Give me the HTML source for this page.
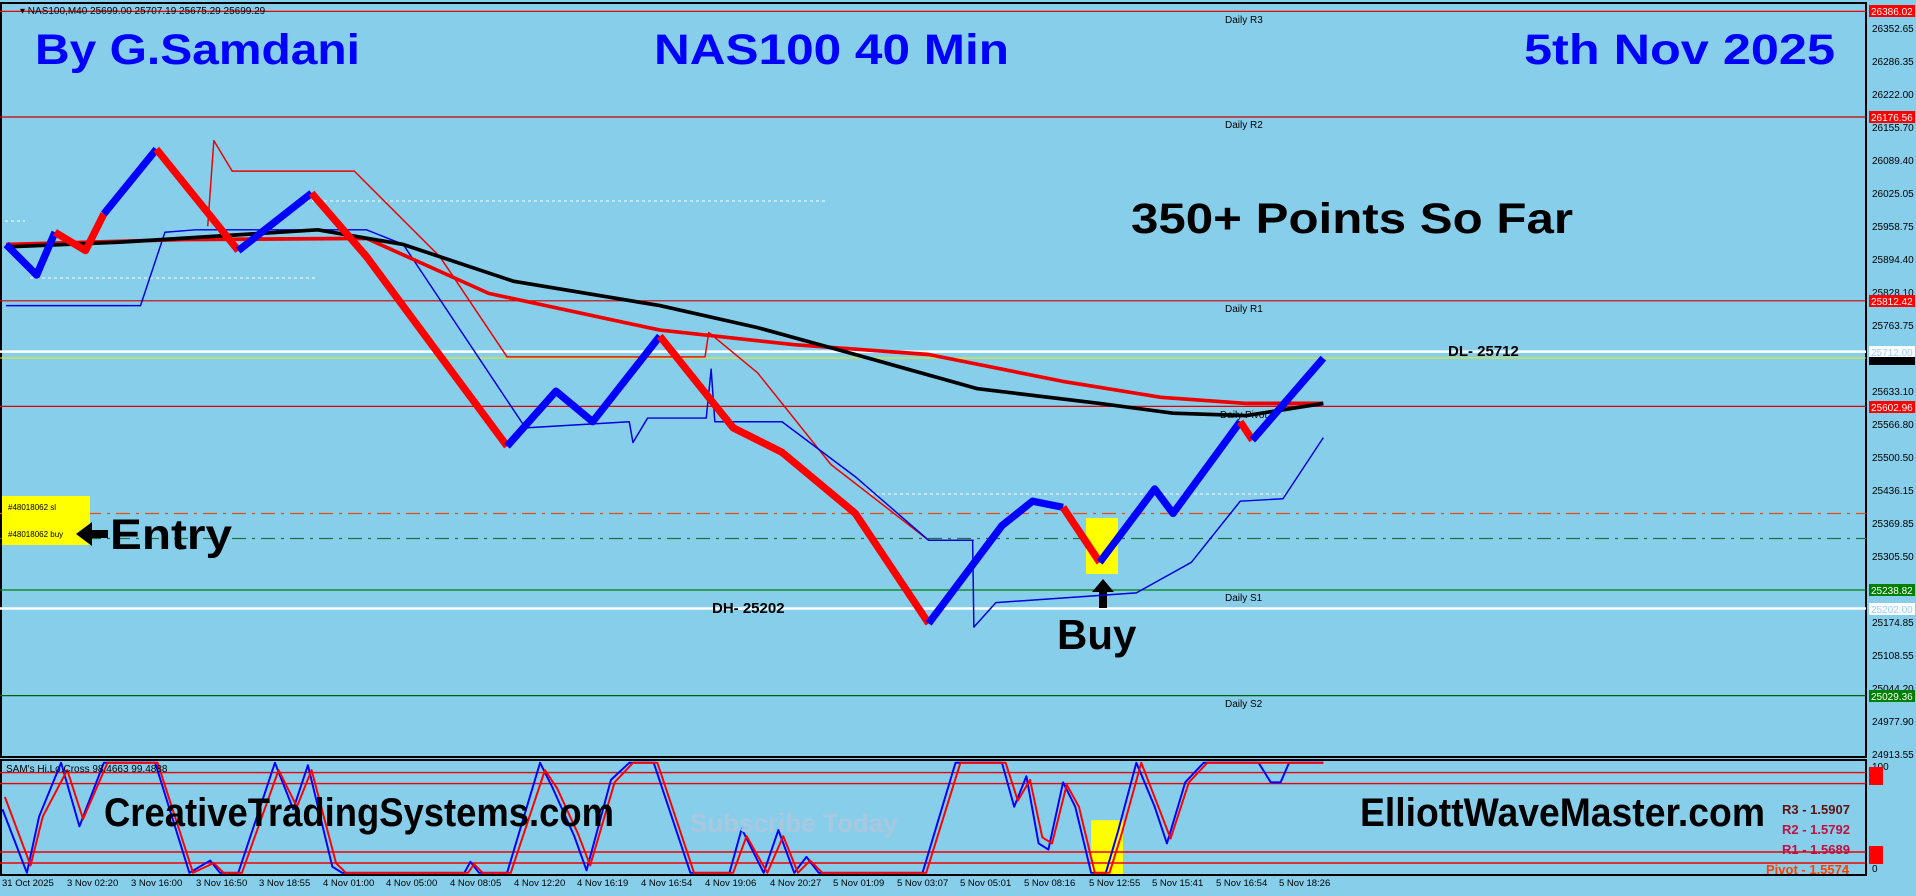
<!DOCTYPE html>
<html><head><meta charset="utf-8"><style>
html,body{margin:0;padding:0;background:#87ceeb;}
svg{display:block;font-family:"Liberation Sans",sans-serif;}
</style></head><body>
<svg width="1916" height="896" viewBox="0 0 1916 896" xmlns="http://www.w3.org/2000/svg">
<rect width="1916" height="896" fill="#87ceeb"/>
<rect x="1" y="3" width="1865" height="754" fill="none" stroke="#000" stroke-width="2"/>
<rect x="1" y="760" width="1865" height="115" fill="none" stroke="#000" stroke-width="2"/>
<g stroke-width="1.2">
<line x1="0" x2="1866" y1="11.4" y2="11.4" stroke="#e00"/>
<line x1="0" x2="1866" y1="117" y2="117" stroke="#c00"/>
<line x1="0" x2="1866" y1="300.8" y2="300.8" stroke="#c00"/>
<line x1="0" x2="1866" y1="351.6" y2="351.6" stroke="#fff" stroke-width="2.5"/>
<line x1="0" x2="1866" y1="358" y2="358" stroke="#ee0" stroke-width="1"/>
<line x1="0" x2="1866" y1="406.4" y2="406.4" stroke="#d00"/>
<line x1="0" x2="1866" y1="513.5" y2="513.5" stroke="#e05010" stroke-dasharray="14,6,3,6"/>
<line x1="0" x2="1866" y1="538.5" y2="538.5" stroke="#207040" stroke-dasharray="14,6,3,6"/>
<line x1="0" x2="1866" y1="590" y2="590" stroke="#008000"/>
<line x1="0" x2="1866" y1="608.5" y2="608.5" stroke="#fff" stroke-width="2.5"/>
<line x1="0" x2="1866" y1="695.6" y2="695.6" stroke="#006000"/>
</g>
<g stroke="#fff" stroke-dasharray="3,3" stroke-width="1">
<line x1="300" x2="825" y1="201" y2="201"/>
<line x1="5" x2="25" y1="221" y2="221"/>
<line x1="30" x2="315" y1="278" y2="278"/>
<line x1="870" x2="1290" y1="494" y2="494"/>
</g>
<g font-size="10" fill="#000">
<text x="1225" y="23">Daily R3</text>
<text x="1225" y="128">Daily R2</text>
<text x="1225" y="312">Daily R1</text>
<text x="1220" y="418">Daily Pivot</text>
<text x="1225" y="601">Daily S1</text>
<text x="1225" y="707">Daily S2</text>
</g>
<text x="20" y="14" font-size="10" fill="#000">▾ NAS100,M40  25699.00 25707.19 25675.29 25699.29</text>
<g font-weight="bold" fill="#0000ff" font-size="43">
<text x="35" y="64" textLength="325" lengthAdjust="spacingAndGlyphs">By G.Samdani</text>
<text x="654" y="64" textLength="355" lengthAdjust="spacingAndGlyphs">NAS100 40 Min</text>
<text x="1524" y="64" textLength="311" lengthAdjust="spacingAndGlyphs">5th Nov 2025</text>
</g>
<text x="1131" y="233" font-weight="bold" font-size="43" fill="#000" textLength="442" lengthAdjust="spacingAndGlyphs">350+ Points So Far</text>
<text x="1448" y="356" font-weight="bold" font-size="15" fill="#000">DL- 25712</text>
<text x="712" y="613" font-weight="bold" font-size="15" fill="#000">DH- 25202</text>
<rect x="2" y="496" width="88" height="49" fill="#ffff00"/>
<text x="8" y="510" font-size="8" fill="#000">#48018062 sl</text>
<text x="8" y="537" font-size="8" fill="#000">#48018062 buy</text>
<path d="M76,534 L92,522 L92,530 L108,530 L108,538 L92,538 L92,546 Z" fill="#000"/>
<text x="110" y="549" font-weight="bold" font-size="43" fill="#000" textLength="122" lengthAdjust="spacingAndGlyphs">Entry</text>
<rect x="1086" y="518" width="32" height="56" fill="#ffff00"/>
<text x="1057" y="649" font-weight="bold" font-size="42" fill="#000">Buy</text>
<path d="M1103,579 L1114,592 L1107,592 L1107,608 L1099,608 L1099,592 L1092,592 Z" fill="#000"/>
<g transform="scale(1.2219,1.2224)" fill="none" stroke-linejoin="round">
<polyline stroke="#e00" stroke-width="1.2" points="170,185 175,115 190,140 290,140 360,210 415,292 577,292 580,272 620,305 680,380 760,442 797,442"/>
<polyline stroke="#0000dd" stroke-width="1.2" points="5,250 115,250 135,190 160,188 300,188 330,200 430,350 515,345 518,362 530,342 578,342 582,302 585,345 640,345 700,390 760,442 796,442 797,513 815,493 930,485 975,460 1015,410 1050,408 1083,358"/>
<polyline stroke="#e00" stroke-width="3" points="5,200 150,196 300,195 400,240 540,270 650,282 760,290 870,312 950,325 1020,330 1083,330"/>
<polyline stroke="#000" stroke-width="3" points="5,202 100,198 260,188 330,200 420,230 540,250 620,268 700,290 800,318 900,330 960,338 1020,340 1083,330"/>
<polyline stroke="#0000ff" stroke-width="6" points="5,200 30,225 45,190"/>
<polyline stroke="#ff0000" stroke-width="6" points="45,190 70,205 85,175"/>
<polyline stroke="#0000ff" stroke-width="6" points="85,175 128,122"/>
<polyline stroke="#ff0000" stroke-width="6" points="128,122 195,205"/>
<polyline stroke="#0000ff" stroke-width="6" points="195,205 255,158"/>
<polyline stroke="#ff0000" stroke-width="6" points="255,158 300,210 415,365"/>
<polyline stroke="#0000ff" stroke-width="6" points="415,365 455,320 485,345 540,275"/>
<polyline stroke="#ff0000" stroke-width="6" points="540,275 600,350 640,370 700,420 760,510"/>
<polyline stroke="#0000ff" stroke-width="6" points="760,510 820,430 845,410 870,415"/>
<polyline stroke="#ff0000" stroke-width="6" points="870,415 900,460"/>
<polyline stroke="#0000ff" stroke-width="6" points="900,460 945,400 960,420 1015,345"/>
<polyline stroke="#ff0000" stroke-width="6" points="1015,345 1025,360"/>
<polyline stroke="#0000ff" stroke-width="6" points="1025,360 1083,293"/>
<rect x="893" y="671" width="26" height="44" fill="#ffff00" stroke="none"/>
<g stroke="#e00" stroke-width="1.2">
<line x1="0" x2="1527" y1="632" y2="632"/><line x1="0" x2="1527" y1="641" y2="641"/>
<line x1="0" x2="1527" y1="697" y2="697"/><line x1="0" x2="1527" y1="706" y2="706"/>
</g>
<polyline stroke="#0000ff" stroke-width="1.6" points="2,662 22,714 32,668 50,624 65,676 85,624 127,624 155,714 172,704 180,714 195,714 225,624 240,662 252,626 272,709 280,714 380,714 385,705 392,714 415,714 442,624 452,644 470,684 480,712 500,638 515,624 535,624 565,714 597,714 607,678 625,714 637,679 650,714 660,701 670,714 755,714 782,624 820,624 830,660 840,635 850,690 858,695 870,640 880,660 893,714 905,714 915,680 930,624 945,660 955,690 970,640 985,624 1010,624 1030,624 1040,640 1048,640 1055,624 1083,624"/>
<polyline stroke="#ff0000" stroke-width="1.6" points="4,652 25,708 35,668 55,630 68,670 88,624 129,624 158,714 175,706 183,714 198,714 228,630 243,660 255,630 275,706 283,714 383,714 388,707 395,714 418,714 446,630 456,645 473,682 483,708 503,640 518,624 538,624 568,714 600,714 611,684 628,714 641,684 653,714 663,704 673,714 758,714 786,624 823,624 833,655 843,638 853,685 861,690 873,642 883,660 896,714 908,714 918,682 934,624 948,660 958,686 973,640 988,624 1083,624"/>
</g>
<text x="104" y="826" font-weight="bold" font-size="40" fill="#000" textLength="510" lengthAdjust="spacingAndGlyphs">CreativeTradingSystems.com</text>
<text x="690" y="832" font-weight="bold" font-size="26" fill="#a9c8e0">Subscribe Today</text>
<text x="1360" y="826" font-weight="bold" font-size="40" fill="#000" textLength="405" lengthAdjust="spacingAndGlyphs">ElliottWaveMaster.com</text>
<text x="6" y="772" font-size="10" fill="#000">SAM's Hi.Lo.Cross 98.4663 99.4888</text>
<g font-size="13" font-weight="bold">
<text x="1782" y="814" fill="#601010">R3 - 1.5907</text>
<text x="1782" y="834" fill="#c01040">R2 - 1.5792</text>
<text x="1782" y="854" fill="#c01040">R1 - 1.5689</text>
<text x="1766" y="874" fill="#ff4000">Pivot - 1.5574</text>
</g>
<g font-size="10" fill="#000">
<text x="1872" y="32">26352.65</text><text x="1872" y="65">26286.35</text><text x="1872" y="98">26222.00</text>
<text x="1872" y="131">26155.70</text><text x="1872" y="164">26089.40</text><text x="1872" y="197">26025.05</text>
<text x="1872" y="230">25958.75</text><text x="1872" y="263">25894.40</text><text x="1872" y="296">25828.10</text>
<text x="1872" y="329">25763.75</text><text x="1872" y="395">25633.10</text><text x="1872" y="428">25566.80</text>
<text x="1872" y="461">25500.50</text><text x="1872" y="494">25436.15</text><text x="1872" y="527">25369.85</text>
<text x="1872" y="560">25305.50</text><text x="1872" y="626">25174.85</text><text x="1872" y="659">25108.55</text>
<text x="1872" y="692">25044.20</text><text x="1872" y="725">24977.90</text><text x="1872" y="758">24913.55</text>
<text x="1872" y="770">100</text><text x="1872" y="872">0</text>
</g>
<g font-size="10">
<rect x="1869" y="5" width="46" height="12" fill="#f00"/><text x="1871" y="15" fill="#fff">26386.02</text>
<rect x="1869" y="111" width="46" height="12" fill="#f00"/><text x="1871" y="121" fill="#fff">26176.56</text>
<rect x="1869" y="295" width="46" height="12" fill="#f00"/><text x="1871" y="305" fill="#fff">25812.42</text>
<rect x="1869" y="346" width="46" height="12" fill="#fff"/><text x="1871" y="356" fill="#9cf">25712.00</text>
<rect x="1869" y="357" width="46" height="8" fill="#000"/>
<rect x="1869" y="401" width="46" height="12" fill="#f00"/><text x="1871" y="411" fill="#fff">25602.96</text>
<rect x="1869" y="584" width="46" height="12" fill="#008000"/><text x="1871" y="594" fill="#fff">25238.82</text>
<rect x="1869" y="603" width="46" height="12" fill="#fff"/><text x="1871" y="613" fill="#9cf">25202.00</text>
<rect x="1869" y="690" width="46" height="12" fill="#008000"/><text x="1871" y="700" fill="#fff">25029.36</text>
<rect x="1869" y="767" width="14" height="18" fill="#f00"/>
<rect x="1869" y="846" width="14" height="18" fill="#f00"/>
</g>
<g font-size="9.5" fill="#000">
<text x="2" y="886">31 Oct 2025</text><text x="67" y="886">3 Nov 02:20</text><text x="131" y="886">3 Nov 16:00</text>
<text x="196" y="886">3 Nov 16:50</text><text x="259" y="886">3 Nov 18:55</text><text x="323" y="886">4 Nov 01:00</text>
<text x="386" y="886">4 Nov 05:00</text><text x="450" y="886">4 Nov 08:05</text><text x="514" y="886">4 Nov 12:20</text>
<text x="577" y="886">4 Nov 16:19</text><text x="641" y="886">4 Nov 16:54</text><text x="705" y="886">4 Nov 19:06</text>
<text x="770" y="886">4 Nov 20:27</text><text x="833" y="886">5 Nov 01:09</text><text x="897" y="886">5 Nov 03:07</text>
<text x="960" y="886">5 Nov 05:01</text><text x="1024" y="886">5 Nov 08:16</text><text x="1089" y="886">5 Nov 12:55</text>
<text x="1152" y="886">5 Nov 15:41</text><text x="1216" y="886">5 Nov 16:54</text><text x="1279" y="886">5 Nov 18:26</text>
</g>
</svg>
</body></html>
